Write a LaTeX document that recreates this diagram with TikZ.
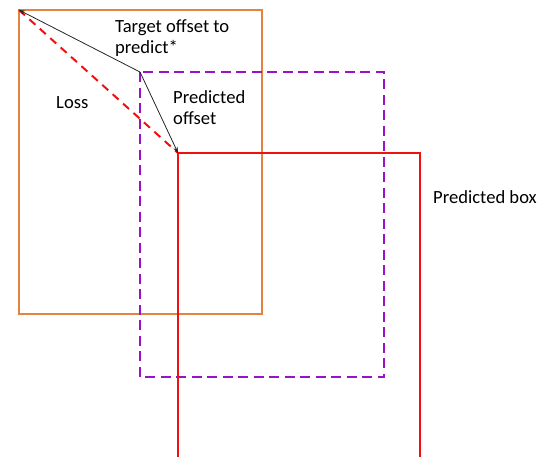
\documentclass[tikz,border=0pt]{standalone}
\usepackage{fontspec}
\setmainfont{Carlito}
\usetikzlibrary{arrows.meta}
\definecolor{boxorange}{HTML}{E4833F}
\definecolor{boxpurple}{HTML}{9A12C8}
\definecolor{boxred}{HTML}{F01010}
\tikzset{
  lbl/.style={font=\fontsize{18.6}{20.5}\selectfont, inner sep=0pt, anchor=base west, align=left},
  offarrow/.style={draw=black!85, line width=0.8pt, -{Stealth[length=6pt,width=4.5pt]}},
  lossline/.style={draw=boxred, line width=2pt, dash pattern=on 8pt off 6pt},
}
\begin{document}
\begin{tikzpicture}[x=1pt,y=-1pt]
\useasboundingbox (0,0) rectangle (537,456);
\clip (0,0) rectangle (537,456);
\coordinate (O) at (19,10);
\coordinate (P) at (140,72);
\coordinate (R) at (178,153);
\coordinate (Oe) at (262,314);
\coordinate (Pe) at (384,377);
\coordinate (Re) at (420,460);
% boxes
\draw[boxorange, line width=2.2pt] (O) rectangle (Oe);
\draw[boxpurple, line width=2pt, dash pattern=on 10pt off 5.5pt] (P) rectangle (Pe);
\draw[boxred, line width=2pt] (R |- Re) -- (R) -- (R -| Re) -- (Re);
% loss
\draw[lossline] (O) -- (R);
% offsets
\draw[offarrow] (P) -- (O);
\draw[offarrow] (P) -- (R);
% labels
\node[lbl] (target) at (115,53) {Target offset to\\predict*};
\node[lbl] (loss) at (56,108) {Loss};
\node[lbl] (predoff) at (173,124) {Predicted\\offset};
\node[lbl] (predbox) at (433,203) {Predicted box};
\end{tikzpicture}
\end{document}
